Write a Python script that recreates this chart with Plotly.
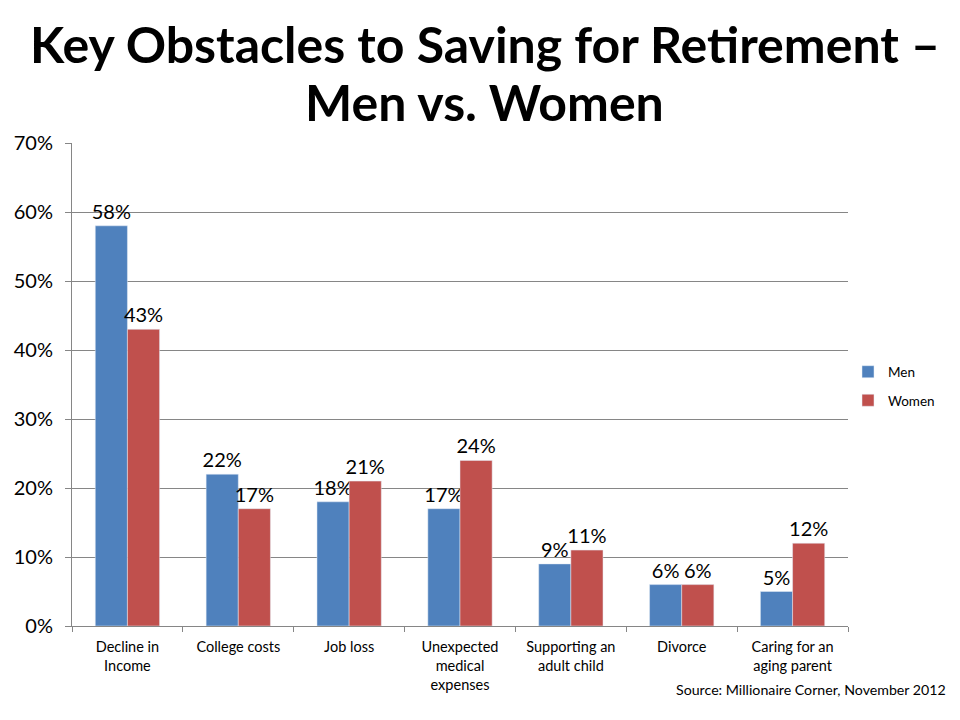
import plotly.graph_objects as go

categories = ["Decline in<br>Income", "College costs", "Job loss", "Unexpected<br>medical<br>expenses",
              "Supporting an<br>adult child", "Divorce", "Caring for an<br>aging parent"]
men = [0.58, 0.22, 0.18, 0.17, 0.09, 0.06, 0.05]
women = [0.43, 0.17, 0.21, 0.24, 0.11, 0.06, 0.12]
men_labels = ["58%", "22%", "18%", "17%", "9%", "6%", "5%"]
women_labels = ["43%", "17%", "21%", "24%", "11%", "6%", "12%"]
title_lines = ["Key Obstacles to Saving for Retirement –", "Men vs. Women"]
source_text = "Source: Millionaire Corner, November 2012"

FONT = "Lato"

fig = go.Figure()
fig.add_trace(go.Bar(name="Men", x=categories, y=men, marker_color="#4F81BD",
                     legendgroup="men",
                     text=men_labels, textposition="outside", cliponaxis=False,
                     textfont=dict(size=20, color="black", family=FONT)))
fig.add_trace(go.Bar(name="Women", x=categories, y=women, marker_color="#C0504D",
                     legendgroup="women",
                     text=women_labels, textposition="outside", cliponaxis=False,
                     textfont=dict(size=20, color="black", family=FONT)))

# page has an 8px body margin, so the figure is drawn 8px smaller
fig.update_layout(
    width=952, height=712,
    paper_bgcolor="white", plot_bgcolor="white",
    barmode="group", bargap=0.42, bargroupgap=0,
    uniformtext=dict(mode=False),
    margin=dict(l=64, r=112, t=135, b=94, autoexpand=False),
    font=dict(family=FONT, color="black"),
    legend=dict(x=1.0, y=0.496, xanchor="left", yanchor="middle",
                font=dict(size=13.5, family=FONT), tracegroupgap=8, itemwidth=30),
    xaxis=dict(showline=True, linecolor="#868686", ticks="outside", tickson="boundaries",
               tickcolor="#868686", ticklen=5, ticklabelstandoff=8,
               tickfont=dict(size=14.5, family=FONT), automargin=False),
    yaxis=dict(range=[0, 0.70], dtick=0.10, tickformat=".0%", showgrid=True,
               gridcolor="#868686", showline=True, linecolor="#868686",
               ticks="outside", tickcolor="#868686", ticklen=6, ticklabelstandoff=8,
               tickfont=dict(size=20, family=FONT), zeroline=False, automargin=False),
)
fig.update_traces(constraintext="none")
fig.add_annotation(text="<b>" + title_lines[0] + "</b>", xref="paper", yref="paper",
                   x=0.532, y=1.205, xanchor="center", yanchor="middle", showarrow=False,
                   font=dict(size=50, family=FONT, color="black"))
fig.add_annotation(text="<b>" + title_lines[1] + "</b>", xref="paper", yref="paper",
                   x=0.532, y=1.085, xanchor="center", yanchor="middle", showarrow=False,
                   font=dict(size=50, family=FONT, color="black"))
fig.add_annotation(text=source_text, xref="paper", yref="paper",
                   x=1.129, y=-0.1325, xanchor="right", yanchor="middle", showarrow=False,
                   font=dict(size=14.2, family=FONT, color="black"))
fig.write_html("out.html")
